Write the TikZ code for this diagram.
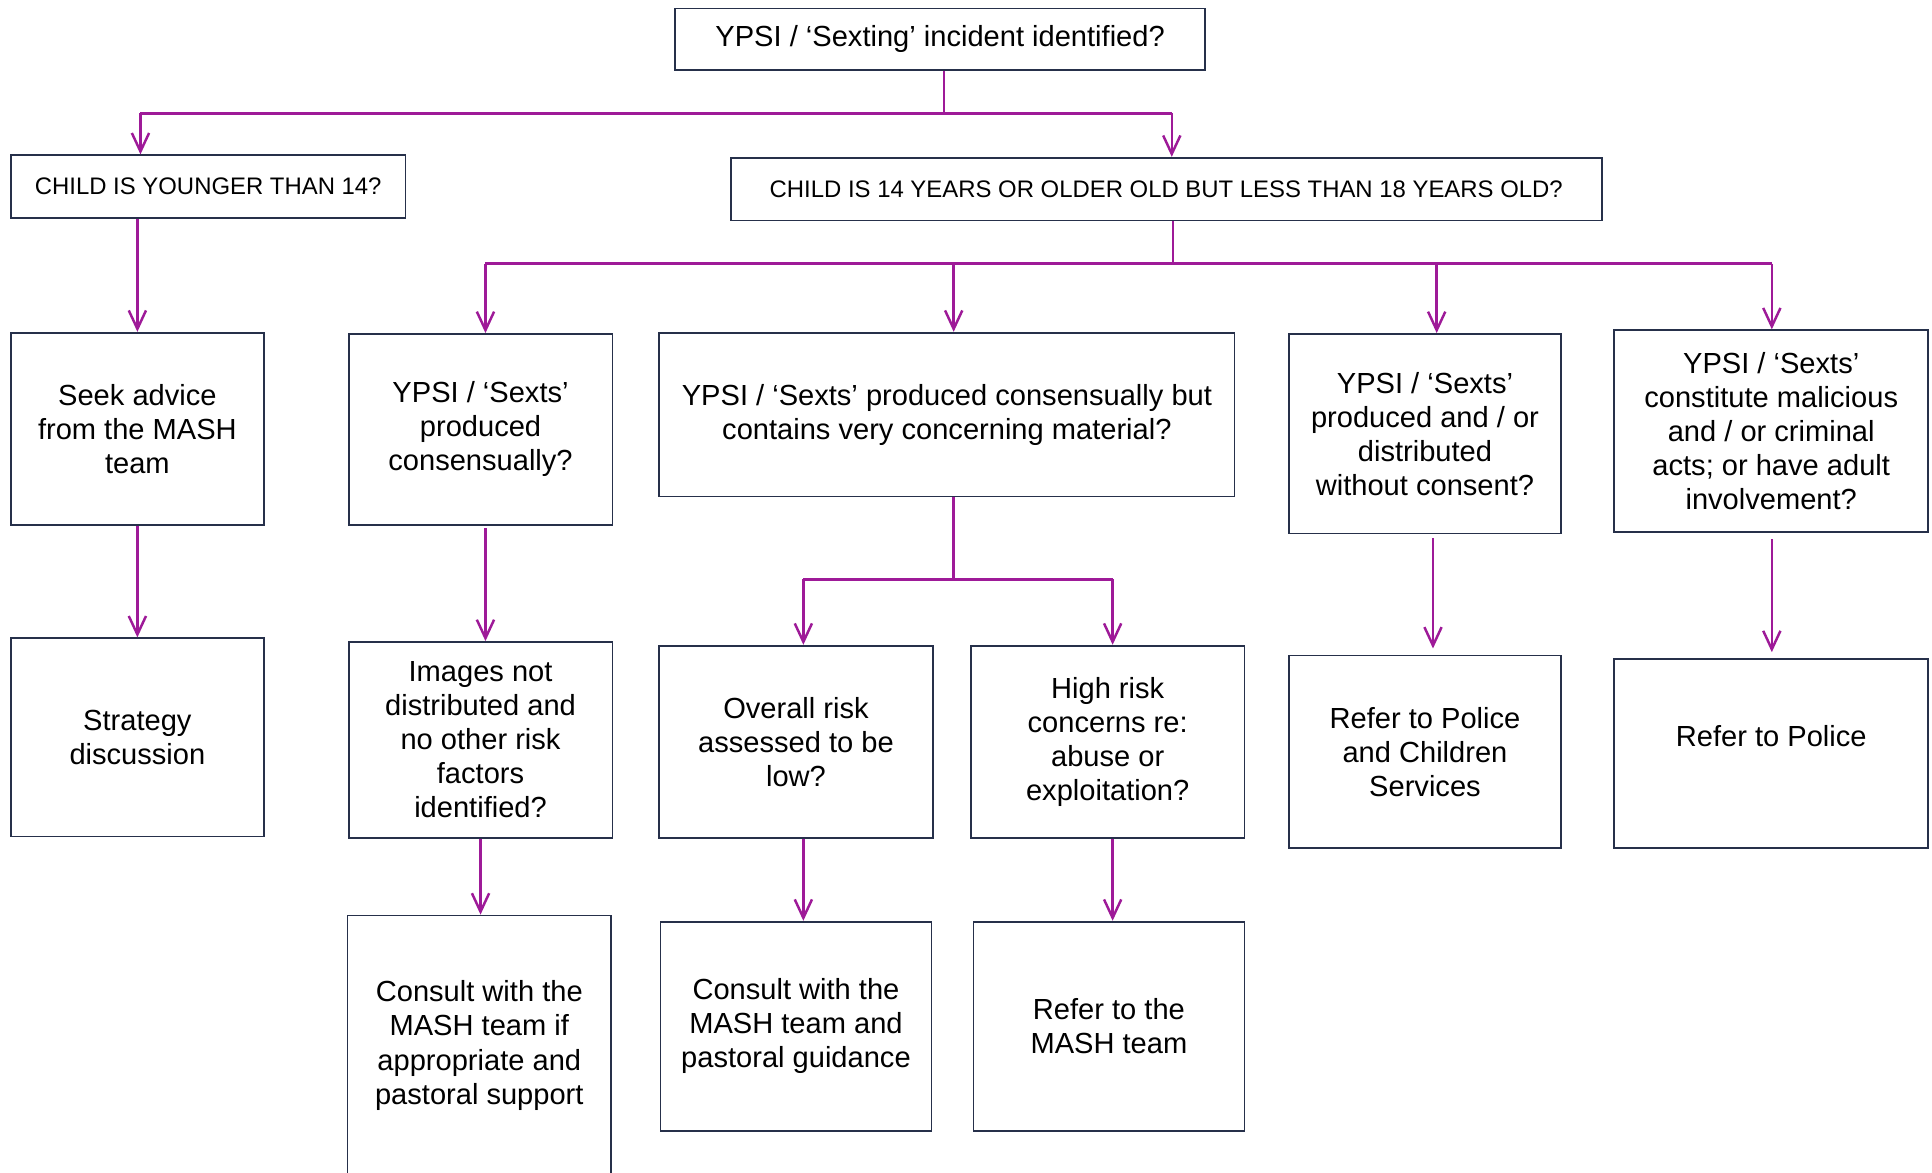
\documentclass[tikz,border=0pt]{standalone}
\usepackage{fontspec}
\setmainfont{Liberation Sans}
\usetikzlibrary{arrows.meta}
\definecolor{conn}{RGB}{158,26,152}
\definecolor{edge}{RGB}{38,48,74}
\begin{document}
\begin{tikzpicture}[x=1pt,y=-1pt,
  box/.style={draw=edge,line width=1.4pt,fill=white,inner sep=0pt,align=center,
    font=\fontsize{23.6}{27.6}\selectfont},
  capbox/.style={box,font=\fontsize{19.4}{23}\selectfont},
  link/.style={draw=conn,line width=2pt},
  bus/.style={draw=conn,line width=2.5pt},
  arr/.style={link,-{Straight Barb[length=15pt,width=14pt]}}
]
\useasboundingbox (0,0) rectangle (1568,952);
\fill[white] (0,0) rectangle (1568,952);
\clip (0,0) rectangle (1568,952);

% boxes
\node[box,minimum width=430pt,minimum height=50pt] (top) at (763,32) {\raisebox{-2pt}{YPSI / ‘Sexting’ incident identified?}};
\node[capbox,minimum width=320pt,minimum height=51pt] (L1) at (169,151.5) {CHILD IS YOUNGER THAN 14?};
\node[capbox,minimum width=707pt,minimum height=51pt] (R1) at (946.5,153.5) {CHILD IS 14 YEARS OR OLDER OLD BUT LESS THAN 18 YEARS OLD?};
\node[box,minimum width=205pt,minimum height=156pt] (seek) at (111.5,348) {Seek advice\\from the MASH\\team};
\node[box,minimum width=205pt,minimum height=161pt] (strat) at (111.5,598.5) {Strategy\\discussion};
\node[box,minimum width=214pt,minimum height=155pt] (A) at (390,348.5) {YPSI / ‘Sexts’\\produced\\consensually?};
\node[box,minimum width=467pt,minimum height=133pt] (B) at (768.5,336.5) {YPSI / ‘Sexts’ produced consensually but\\contains very concerning material?};
\node[box,minimum width=221pt,minimum height=162pt] (C) at (1156.5,352) {YPSI / ‘Sexts’\\produced and / or\\distributed\\without consent?};
\node[box,minimum width=255pt,minimum height=164pt] (D) at (1437.5,350) {YPSI / ‘Sexts’\\constitute malicious\\and / or criminal\\acts; or have adult\\involvement?};
\node[box,minimum width=214pt,minimum height=159pt] (A2) at (390,600.5) {Images not\\distributed and\\no other risk\\factors\\identified?};
\node[box,minimum width=214pt,minimum height=211pt] (A3) at (389,848.5) {Consult with the\\MASH team if\\appropriate and\\pastoral support};
\node[box,minimum width=222pt,minimum height=156pt] (B1) at (646,602) {Overall risk\\assessed to be\\low?};
\node[box,minimum width=222pt,minimum height=156pt] (B2) at (899,602) {High risk\\concerns re:\\abuse or\\exploitation?};
\node[box,minimum width=220pt,minimum height=170pt] (B1a) at (646,833) {Consult with the\\MASH team and\\pastoral guidance};
\node[box,minimum width=220pt,minimum height=170pt] (B2a) at (900,833) {Refer to the\\MASH team};
\node[box,minimum width=221pt,minimum height=156pt] (C2) at (1156.5,610) {Refer to Police\\and Children\\Services};
\node[box,minimum width=255pt,minimum height=153pt] (D2) at (1437.5,611.5) {Refer to Police\\\mbox{}};

% bus coordinates
\coordinate (t0) at (766,92);
\coordinate (tl) at (114,92);
\coordinate (tr) at (951,92);
\coordinate (r0) at (952,214);
\coordinate (ba) at (394,214);
\coordinate (bb) at (774,214);
\coordinate (bc) at (1166,214);
\coordinate (bd) at (1438,214);
\coordinate (m0) at (774,470);
\coordinate (m1) at (652,470);
\coordinate (m2) at (903,470);
\coordinate (cx) at (1163,470);

% connectors
\draw[link] (top.south -| t0) -- (t0);
\draw[bus] (tl) -- (tr);
\draw[arr] (tl) -- (tl |- L1.north);
\draw[arr] (tr) -- (tr |- R1.north);

\draw[arr] (seek.north |- L1.south) -- (seek.north);
\draw[arr] (strat.north |- seek.south) -- (strat.north);

\draw[link] (R1.south -| r0) -- (r0);
\draw[bus] (ba) -- (bd);
\draw[arr] (ba) -- (ba |- A.north);
\draw[arr] (bb) -- (bb |- B.north);
\draw[arr] (bc) -- (bc |- C.north);
\draw[arr] (bd) -- (bd |- D.north);

\draw[arr,shorten <=2pt] (ba |- A.south) -- (ba |- A2.north);
\draw[arr] (A2.south) -- (A2.south |- A3.north);

\draw[link] (bb |- B.south) -- (m0);
\draw[bus] (m1) -- (m2);
\draw[arr] (m1) -- (m1 |- B1.north);
\draw[arr] (m2) -- (m2 |- B2.north);
\draw[arr] (m1 |- B1.south) -- (m1 |- B1a.north);
\draw[arr] (m2 |- B2.south) -- (m2 |- B2a.north);

\draw[arr,shorten <=3pt,shorten >=5pt] (cx |- C.south) -- (cx |- C2.north);
\draw[arr,shorten <=5pt,shorten >=5pt] (bd |- D.south) -- (bd |- D2.north);
\end{tikzpicture}
\end{document}
